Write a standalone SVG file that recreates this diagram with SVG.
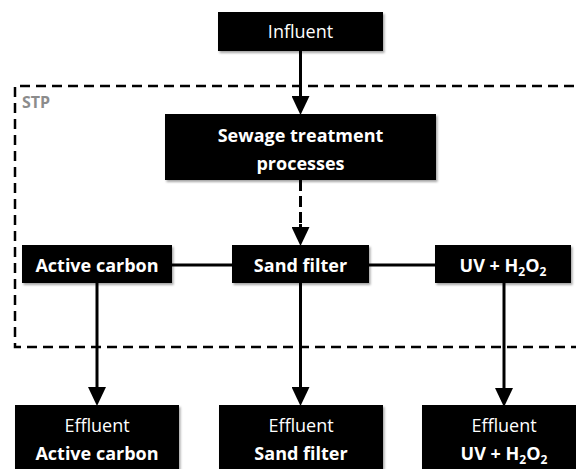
<svg xmlns="http://www.w3.org/2000/svg" width="576" height="469" viewBox="0 0 576 469">
<defs>
<style>
.box{fill:#000;filter:url(#sh)}
.t{font-family:"Open Sans","Noto Sans",sans-serif;font-size:18px;fill:#fff;text-anchor:middle}
.b{font-weight:bold}
.sub{font-size:12px}
.ln{stroke:#000;stroke-width:3;fill:none}
.dash{stroke:#000;stroke-width:2.5;fill:none;stroke-dasharray:10 6}
.stp{font-family:"Open Sans","Noto Sans",sans-serif;font-size:16px;font-weight:bold;fill:#8c8c8c}
</style>
<filter id="sh" x="-10%" y="-10%" width="130%" height="140%">
<feDropShadow dx="1.5" dy="2" stdDeviation="1.2" flood-color="#000" flood-opacity="0.35"/>
</filter>
<marker id="ah" markerUnits="userSpaceOnUse" markerWidth="18" markerHeight="18" refX="8" refY="9" orient="auto">
<path d="M0,0 L19,9 L0,18 z" fill="#000"/>
</marker>
</defs>

<g id="stp">
<path class="dash" d="M590,86 H15 V347 H590"/>
<text class="stp" x="22" y="108">STP</text>
</g>

<g id="connectors">
<line class="ln" x1="300.5" y1="51" x2="300.5" y2="104" marker-end="url(#ah)"/>
<line class="ln" x1="300.5" y1="180" x2="300.5" y2="224" style="stroke-dasharray:11 5"/>
<line class="ln" x1="300.5" y1="224" x2="300.5" y2="235" marker-end="url(#ah)"/>
<line class="ln" x1="172" y1="265" x2="232" y2="265"/>
<line class="ln" x1="369" y1="265" x2="435" y2="265"/>
<line class="ln" x1="97" y1="283" x2="97" y2="395" marker-end="url(#ah)"/>
<line class="ln" x1="300.5" y1="283" x2="300.5" y2="395" marker-end="url(#ah)"/>
<line class="ln" x1="504" y1="283" x2="504" y2="396" marker-end="url(#ah)"/>
</g>

<g id="influent">
<rect class="box" x="218" y="12" width="165" height="39"/>
<text class="t" x="300.5" y="38">Influent</text>
</g>

<g id="sewage">
<rect class="box" x="165" y="114" width="271" height="66"/>
<text class="t b" x="300.5" y="142">Sewage treatment</text>
<text class="t b" x="300.5" y="170">processes</text>
</g>

<g id="active-carbon">
<rect class="box" x="22" y="245" width="150" height="38"/>
<text class="t b" x="97" y="272">Active carbon</text>
</g>

<g id="sand-filter">
<rect class="box" x="232" y="245" width="137" height="38"/>
<text class="t b" x="300.5" y="272">Sand filter</text>
</g>

<g id="uv">
<rect class="box" x="435" y="245" width="136" height="38"/>
<text class="t b" x="503" y="272">UV + H<tspan class="sub" dy="4">2</tspan><tspan dy="-4">O</tspan><tspan class="sub" dy="4">2</tspan></text>
</g>

<g id="eff-ac">
<rect class="box" x="15" y="405" width="164" height="70"/>
<text class="t" x="97" y="432">Effluent</text>
<text class="t b" x="97" y="460">Active carbon</text>
</g>

<g id="eff-sand">
<rect class="box" x="219" y="405" width="164" height="70"/>
<text class="t" x="301" y="432">Effluent</text>
<text class="t b" x="301" y="460">Sand filter</text>
</g>

<g id="eff-uv">
<rect class="box" x="422" y="405" width="164" height="70"/>
<text class="t" x="504" y="432">Effluent</text>
<text class="t b" x="504" y="460">UV + H<tspan class="sub" dy="4">2</tspan><tspan dy="-4">O</tspan><tspan class="sub" dy="4">2</tspan></text>
</g>
</svg>
